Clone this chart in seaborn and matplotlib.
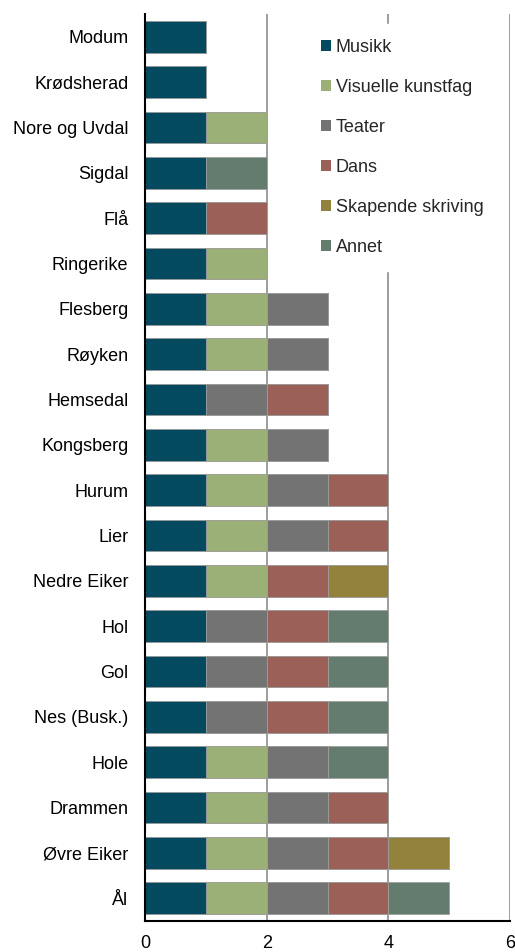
import matplotlib
matplotlib.use("Agg")
import matplotlib.pyplot as plt
import seaborn as sns
import numpy as np
import pandas as pd
from matplotlib.patches import Patch

kommuner = ["Modum", "Krødsherad", "Nore og Uvdal", "Sigdal", "Flå", "Ringerike",
            "Flesberg", "Røyken", "Hemsedal", "Kongsberg", "Hurum", "Lier",
            "Nedre Eiker", "Hol", "Gol", "Nes (Busk.)", "Hole", "Drammen",
            "Øvre Eiker", "Ål"]
series_names = ["Musikk", "Visuelle kunstfag", "Teater", "Dans", "Skapende skriving", "Annet"]
musikk    = [1, 1, 1, 1, 1, 1, 1, 1, 1, 1, 1, 1, 1, 1, 1, 1, 1, 1, 1, 1]
visuelle  = [0, 0, 1, 0, 0, 1, 1, 1, 0, 1, 1, 1, 1, 0, 0, 0, 1, 1, 1, 1]
teater    = [0, 0, 0, 0, 0, 0, 1, 1, 1, 1, 1, 1, 0, 1, 1, 1, 1, 1, 1, 1]
dans      = [0, 0, 0, 0, 1, 0, 0, 0, 1, 0, 1, 1, 1, 1, 1, 1, 0, 1, 1, 1]
skapende  = [0, 0, 0, 0, 0, 0, 0, 0, 0, 0, 0, 0, 1, 0, 0, 0, 0, 0, 1, 0]
annet     = [0, 0, 0, 1, 0, 0, 0, 0, 0, 0, 0, 0, 0, 1, 1, 1, 1, 0, 0, 1]
colors = ["#044A5E", "#9BB077", "#737373", "#9B6159", "#93823C", "#637C6D"]
xticks = [0, 2, 4, 6]

sns.set_style("white")
plt.rcParams["font.family"] = ["Liberation Sans", "DejaVu Sans"]

df = pd.DataFrame({"kommune": kommuner})
series = [musikk, visuelle, teater, dans, skapende, annet]
cum = np.cumsum(np.array(series), axis=0)

fig = plt.figure(figsize=(5.15, 9.52), dpi=100)
ax = fig.add_axes([145 / 515, 31 / 952, 365 / 515, 907 / 952])

for i in range(len(series) - 1, -1, -1):
    df["v"] = cum[i]
    sns.barplot(data=df, x="v", y="kommune", order=kommuner, orient="h",
                color=colors[i], saturation=1, width=0.7, errorbar=None,
                edgecolor="#a0a0a0", linewidth=0.6, ax=ax)

ax.set_xlim(0, 6)
ax.set_xticks(xticks)
ax.set_xticklabels([str(t) for t in xticks])
ax.set_xlabel("")
ax.set_ylabel("")
ax.set_axisbelow(True)
for t in [2, 4, 6]:
    ax.axvline(t, color="#8c8c8c", lw=1.2, zorder=0)
for s in ["top", "right"]:
    ax.spines[s].set_visible(False)
ax.spines["left"].set_color("black")
ax.spines["left"].set_linewidth(1.5)
ax.spines["bottom"].set_color("black")
ax.spines["bottom"].set_linewidth(1.5)
ax.tick_params(axis="y", length=0, pad=12, labelsize=13, colors="black")
ax.tick_params(axis="x", length=0, pad=10, labelsize=13, colors="black")

handles = [Patch(facecolor=c, edgecolor="none", label=n) for c, n in zip(colors, series_names)]
leg = fig.legend(handles=handles, loc="upper left",
                 bbox_to_anchor=(306 / 515, 1 - 24 / 952), bbox_transform=fig.transFigure,
                 borderaxespad=0, borderpad=0.85, frameon=True, fancybox=False,
                 edgecolor="white", facecolor="white", framealpha=1,
                 handlelength=0.56, handleheight=0.56, handletextpad=0.25,
                 labelspacing=1.27, fontsize=13)

fig.savefig("out.png", dpi=100)
